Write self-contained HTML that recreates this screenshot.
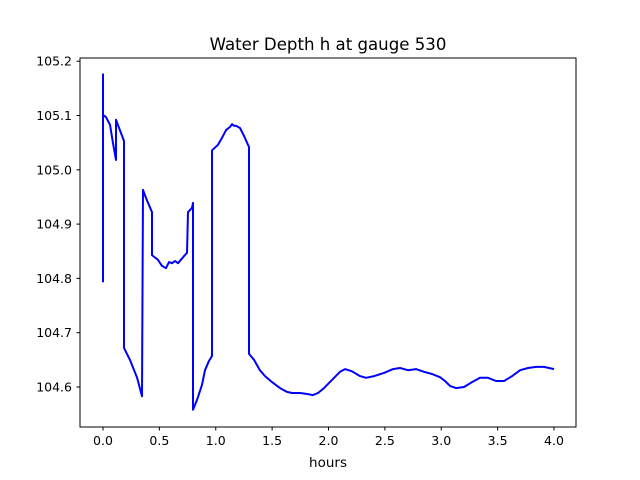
<!DOCTYPE html>
<html><head><meta charset="utf-8"><style>
body{margin:0;background:#fff;}
svg{display:block;font-family:"DejaVu Sans","Liberation Sans",sans-serif;}
</style></head><body>
<svg id="chart" width="640" height="480" xmlns="http://www.w3.org/2000/svg">
<rect width="640" height="480" fill="#fff"/>
<text x="328" y="50" text-anchor="middle" font-size="16.6">Water Depth h at gauge 530</text>
<g id="plot"></g>
<rect x="80" y="58" width="496" height="369" fill="none" stroke="#000" stroke-width="1"/>
<text x="328" y="467" text-anchor="middle" font-size="13.5">hours</text>
</svg>
<script>
const hours=[0,0,0,0.027,0.062,0.089,0.115,0.115,0.186,0.186,0.239,0.302,0.346,0.355,0.381,0.435,0.435,0.488,0.523,0.559,0.585,0.612,0.639,0.665,0.718,0.745,0.754,0.789,0.798,0.798,0.834,0.878,0.905,0.940,0.967,0.967,1.020,1.055,1.091,1.126,1.144,1.162,1.180,1.215,1.251,1.295,1.295,1.339,1.392,1.437,1.499,1.570,1.632,1.676,1.747,1.818,1.862,1.907,1.960,2.031,2.102,2.146,2.208,2.279,2.333,2.404,2.492,2.572,2.634,2.705,2.776,2.847,2.918,2.989,3.033,3.078,3.131,3.202,3.273,3.344,3.415,3.486,3.557,3.628,3.699,3.770,3.841,3.911,4.0];
const depth=[104.793,105.176,105.101,105.097,105.083,105.049,105.018,105.092,105.053,104.672,104.650,104.617,104.583,104.963,104.948,104.922,104.843,104.834,104.823,104.819,104.830,104.828,104.832,104.828,104.841,104.847,104.922,104.930,104.939,104.558,104.576,104.604,104.631,104.648,104.657,105.036,105.046,105.059,105.073,105.079,105.084,105.081,105.081,105.077,105.062,105.042,104.661,104.650,104.631,104.620,104.609,104.598,104.591,104.589,104.589,104.587,104.585,104.589,104.598,104.613,104.628,104.633,104.629,104.620,104.617,104.620,104.626,104.633,104.635,104.631,104.633,104.628,104.624,104.618,104.611,104.602,104.598,104.600,104.609,104.617,104.617,104.611,104.611,104.620,104.631,104.635,104.637,104.637,104.633];
const xTicks=[0,0.5,1,1.5,2,2.5,3,3.5,4];
const xTickLabels=["0.0","0.5","1.0","1.5","2.0","2.5","3.0","3.5","4.0"];
const yTicks=[104.6,104.7,104.8,104.9,105.0,105.1,105.2];
const yTickLabels=["104.6","104.7","104.8","104.9","105.0","105.1","105.2"];
const NS="http://www.w3.org/2000/svg";
const X=t=>103+t*112.75;
const Y=v=>387-(v-104.6)*543;
const g=document.getElementById('plot');
function mk(tag,attrs){const e=document.createElementNS(NS,tag);for(const k in attrs)e.setAttribute(k,attrs[k]);return e;}
xTicks.forEach((t,i)=>{
  const l=mk('line',{x1:X(t),x2:X(t),y1:427,y2:430.5,stroke:'#000'});
  
  
  g.appendChild(l);
  const tx=mk('text',{x:X(t),y:445,'text-anchor':'middle','font-size':'12.5'});
  tx.textContent=xTickLabels[i];
  
  
  g.appendChild(tx);
});
yTicks.forEach((v,i)=>{
  const l=mk('line',{x1:76.5,x2:80,y1:Y(v),y2:Y(v),stroke:'#000'});
  
  
  g.appendChild(l);
  const tx=mk('text',{x:72,y:Y(v)+4.5,'text-anchor':'end','font-size':'12.5'});
  tx.textContent=yTickLabels[i];
  
  
  g.appendChild(tx);
});
const pts=hours.map((t,i)=>X(t).toFixed(1)+','+Y(depth[i]).toFixed(1)).join(' ');
const pl=mk('polyline',{points:pts,fill:'none',stroke:'#0000ff','stroke-width':'2','stroke-linejoin':'round'});


g.appendChild(pl);
</script>
</body></html>
